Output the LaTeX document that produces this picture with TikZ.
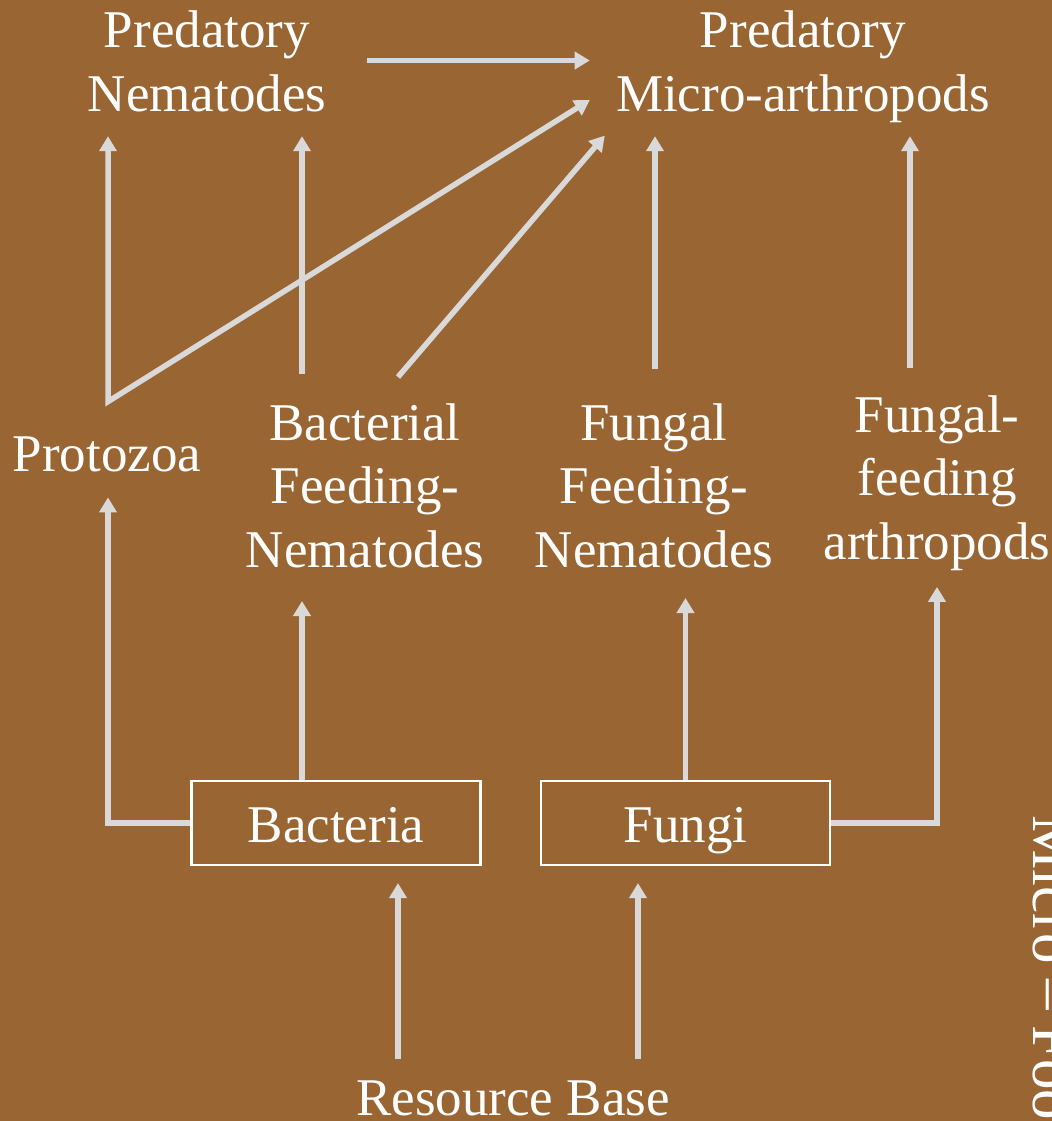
\documentclass[tikz,border=0pt]{standalone}
\usepackage{fontspec}
\setmainfont{Liberation Serif}
\usetikzlibrary{arrows.meta, calc}
\definecolor{soil}{HTML}{996633}
\definecolor{cline}{HTML}{D9D9D9}
\tikzset{
  every picture/.style={font=\fontsize{37.7pt}{45.2pt}\selectfont},
  >={Triangle[length=0.375cm, width=0.425cm]},
  taxon/.style={text=white, align=center, inner sep=0pt},
  box/.style={draw=white, line width=1.5pt, text=white, minimum width=7.225cm, minimum height=2.1cm, inner sep=0pt, text height=0.95cm, text depth=0pt},
  arrow/.style={->, draw=cline, line width=0.1375cm},
}
\begin{document}
\begin{tikzpicture}[x=0.025cm, y=-0.025cm]
  \useasboundingbox (0,0) rectangle (1052,1121);
  \fill[soil] (0,0) rectangle (1052,1121);
  \clip (0,0) rectangle (1052,1121);
  % consumers
  \node[taxon] (prednem) at (207,61.5) {Predatory\\Nematodes};
  \node[taxon] (predmicro) at (803,67) {Predatory\\Micro-arthropods};
  \node[taxon] (protozoa) at (107,454.5) {Protozoa};
  \node[taxon] (bactnem) at (365,485.5) {Bacterial\\Feeding-\\Nematodes};
  \node[taxon] (fungnem) at (654,485.5) {Fungal\\Feeding-\\Nematodes};
  \node[taxon] (fungarth) at (937,483) {Fungal-\\feeding\\arthropods};
  % decomposers and base
  \node[box] (bacteria) at (336,823) {Bacteria};
  \node[box] (fungi) at (685.5,823) {Fungi};
  \node[taxon] (resource) at (513,1098) {Resource Base};
  \node[taxon, font=\fontsize{43.4pt}{52pt}\selectfont, rotate=-90, anchor=base west] (title) at (1033,815) {Micro – Food Web};
  % links
  \coordinate (pztop) at ($(protozoa.north)+(1,-35)$);
  \coordinate (bntop) at ($(bactnem.north)+(-63,-29)$);
  \draw[arrow] ($(prednem.east)+(40,-1)$) -- ($(prednem.east -| predmicro.west)+(-26,-1)$);
  \draw[arrow, <->] ($(pztop |- prednem.south)+(0,24)$) -- (pztop) -- ($(predmicro.west)+(-26,33)$);
  \draw[arrow] (bntop) -- ($(bntop |- prednem.south)+(0,24)$);
  \draw[arrow] ($(bactnem.north)+(33,-26)$) -- ($(predmicro.south west)+(-11,12.5)$);
  \draw[arrow] ($(fungnem.north)+(1,-34)$) -- ($(fungnem.north |- prednem.south)+(1,24)$);
  \draw[arrow] ($(fungarth.north)+(-27,-27)$) -- ($(fungarth.north |- prednem.south)+(-27,24)$);
  \draw[arrow] (bacteria.west) -| ($(protozoa.south)+(1,25)$);
  \draw[arrow] (bacteria.north -| bntop) -- ($(bntop |- bactnem.south)+(0,33)$);
  \draw[arrow] (fungi.north) -- ($(fungi.north |- fungnem.south)+(0,30)$);
  \draw[arrow] (fungi.east) -| ($(fungarth.south)+(0,16)$);
  \draw[arrow] ($(resource.north)+(-115,-21)$) -- ($(resource.north |- bacteria.south)+(-115,17)$);
  \draw[arrow] ($(resource.north)+(125,-21)$) -- ($(resource.north |- bacteria.south)+(125,17)$);
\end{tikzpicture}
\end{document}
